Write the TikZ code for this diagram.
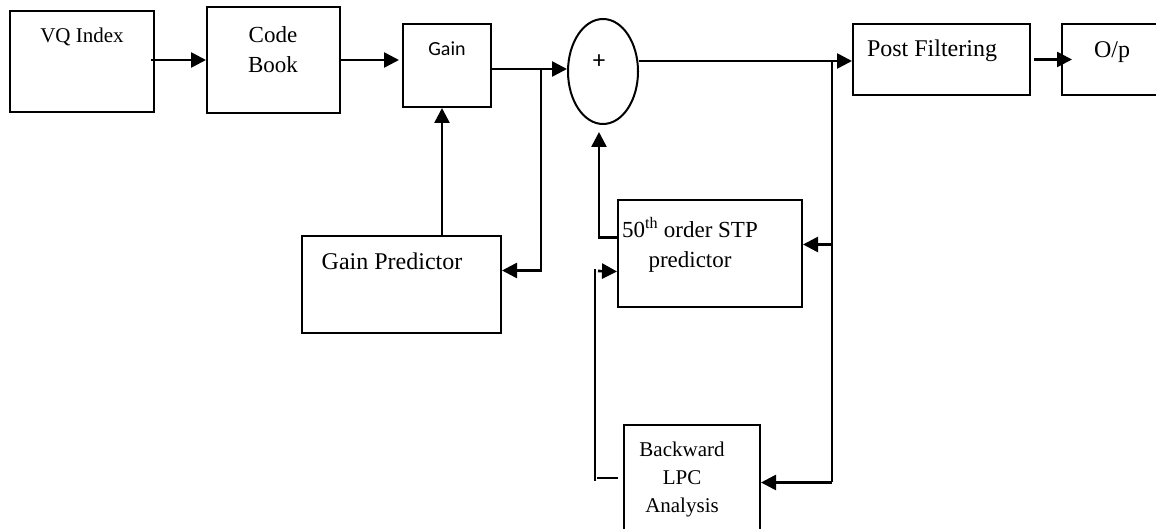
\documentclass[tikz,border=0pt]{standalone}
\usepackage{fontspec}
\setmainfont{Liberation Serif}
\newfontfamily\calibri{Carlito}
\usetikzlibrary{arrows.meta,shapes.geometric}
\tikzset{blk/.style={draw=black,line width=2pt,rectangle,inner sep=0pt},
  lbl/.style={font=\fontsize{24}{30}\selectfont,align=center,inner sep=0pt},
  arr/.style={line width=2.6pt,-{Triangle[length=15pt,width=15pt]}}}

\begin{document}
\begin{tikzpicture}[x=1pt,y=-1pt]
   \useasboundingbox (0,0) rectangle (1156,529);
   \node[blk,minimum width=144,minimum height=101] (vq) at (82,61.5) {};
   \node[blk,minimum width=133,minimum height=106] (cb) at (273.5,60) {};
   \node[blk,minimum width=88,minimum height=83] (gain) at (447,65.5) {};
   \node[draw=black,line width=2pt,ellipse,minimum width=70,minimum height=105,inner sep=0pt] (sum) at (603,71.5) {};
   \node[blk,minimum width=177,minimum height=71] (pf) at (941.5,59.5) {};
   \node[blk,minimum width=110,minimum height=71] (op) at (1117,59.5) {};
   \node[blk,minimum width=199,minimum height=97] (gp) at (401.5,284.5) {};
   \node[blk,minimum width=184,minimum height=107] (stp) at (710,253.5) {};
   \node[blk,minimum width=136,minimum height=115] (lpc) at (692,482.5) {};

   \node[lbl,anchor=base,font=\fontsize{21}{26}\selectfont] (vqt) at (82,43) {VQ Index};
   \node[lbl,anchor=north,font=\fontsize{23}{30}\selectfont] (cbt) at (273,26) {Code\\Book};
   \node[lbl,anchor=base,font=\calibri\fontsize{20}{24}\selectfont] (gaint) at (447,56) {Gain};
   \node[lbl,font=\calibri\fontsize{25}{30}\selectfont] (sumt) at (599,62) {+};
   \node[lbl,anchor=base] (pft) at (932,57) {Post Filtering};
   \node[lbl,anchor=base] (opt) at (1112,58) {O/p};
   \node[lbl,anchor=base] (gpt) at (392,270) {Gain Predictor};
   \node[lbl,anchor=north,font=\fontsize{23}{30}\selectfont] (stpt) at (690,217) {50\textsuperscript{th} order STP\\predictor};
   \node[lbl,anchor=north,font=\fontsize{21}{28}\selectfont] (lpct) at (682,442) {Backward\\LPC\\Analysis};

   \coordinate (br) at (541,69);
   \coordinate (tap) at (832,61);
   \coordinate (tapend) at (832,482);
   \coordinate (lpcout) at (595,481);
   \coordinate (stpin) at (595,269);

   \draw[arr] ([xshift=-4pt]vq.east|-cb.west) -- (cb.west);
   \draw[arr] (cb.east) -- ([xshift=-3pt]cb.east -| gain.west);
   \draw[arr] ([xshift=-1pt]gain.east |- br) -- (br -| sum.west);
   \draw[arr] (br) |- ([yshift=14pt]gp.east);
   \draw[arr] ([xshift=-5pt]gain.south |- gp.north) -- ([xshift=-5pt]gain.south);
   \draw[arr] (sum.east |- tap) -- (tap -| pf.west);
   \draw[arr] ([xshift=3pt]pf.east) -- ([xshift=11pt]op.west);
   \draw[line width=2.6pt] (tap) -- (tapend);
   \draw[arr] (tap |- stp.east) ++(0,-9) -- ([yshift=9pt]stp.east);
   \draw[arr] (tap |- lpc.east) -- (lpc.east);
   \draw[arr,shorten >=7pt] ([yshift=16pt]stp.west) -| ([xshift=-4pt]sum.south);
   \draw[line width=2.6pt] (lpcout) -- (stpin);
   \draw[line width=2.6pt] ([xshift=2pt]lpcout |- 0,478) -- ([xshift=-5pt]lpc.west |- 0,478);
   \draw[arr] ([xshift=3pt]stpin) ++(0,2) -- ([yshift=-18pt]stp.west);
\end{tikzpicture}
\end{document}
